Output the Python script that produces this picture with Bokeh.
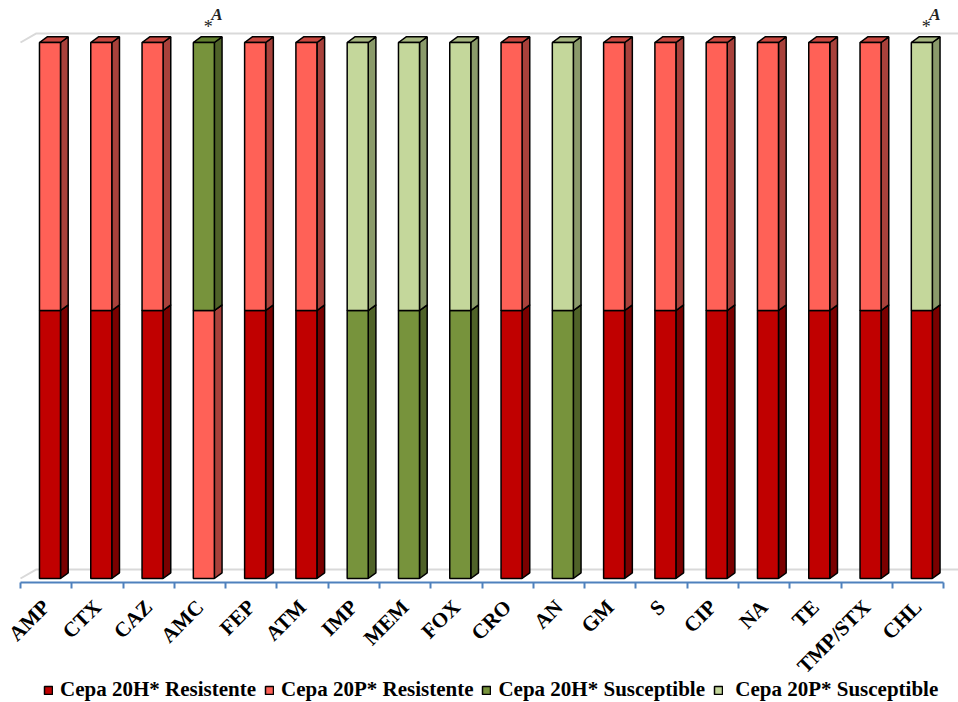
import math
from bokeh.plotting import figure
from bokeh.models import Range1d, FixedTicker, Legend, LegendItem, Label
from bokeh.embed import file_html
from bokeh.resources import INLINE

# Antibiotics tested
categories = ["AMP", "CTX", "CAZ", "AMC", "FEP", "ATM", "IMP", "MEM", "FOX",
              "CRO", "AN", "GM", "S", "CIP", "NA", "TE", "TMP/STX", "CHL"]

# One unit per strain and outcome, stacked in series order
h_resistente = [1, 1, 1, 0, 1, 1, 0, 0, 0, 1, 0, 1, 1, 1, 1, 1, 1, 1]
p_resistente = [1, 1, 1, 1, 1, 1, 0, 0, 0, 1, 0, 1, 1, 1, 1, 1, 1, 0]
h_susceptible = [0, 0, 0, 1, 0, 0, 1, 1, 1, 0, 1, 0, 0, 0, 0, 0, 0, 0]
p_susceptible = [0, 0, 0, 0, 0, 0, 1, 1, 1, 0, 1, 0, 0, 0, 0, 0, 0, 1]

series_names = ["Cepa 20H* Resistente", "Cepa 20P* Resistente",
                "Cepa 20H* Susceptible", " Cepa 20P* Susceptible"]

# Categories carrying the "*A" note
annotated = ["AMC", "CHL"]

# front / side / top shading for each series
front_colors = ["#C00000", "#FF6157", "#77933C", "#C4D79B"]
side_colors = ["#7A0000", "#A8413B", "#4F6228", "#8A9A6A"]
top_colors = ["#9A0000", "#C8473F", "#62802F", "#A6B780"]

series = [h_resistente, p_resistente, h_susceptible, p_susceptible]

# pseudo-3D geometry (data units)
X0, X1 = -0.13, 0.28      # front face, relative to category centre
DX, DY = 0.15, 0.021      # bar depth offset
WX, WY = 0.31, 0.034      # back-wall offset
AXIS_Y = -0.015           # category axis sits just under the bar bases
AXIS_BLUE = "#4F81BD"
GRID_GREY = "#D9D9D9"

n = len(categories)
p = figure(frame_width=958, frame_height=702, output_backend="svg",
           toolbar_location=None,
           x_range=Range1d(-0.89, n - 0.5 + 0.29),
           y_range=Range1d(-0.4627, 2.1567),
           min_border_left=0, min_border_right=0, min_border_top=0,
           min_border_bottom=0, outline_line_color=None)
p.grid.visible = False
p.yaxis.visible = False

# floor and top back-wall lines
for level in (0, 2):
    p.line([-0.5, -0.5 + WX, n - 0.5 + WX], [level, level + WY, level + WY],
           line_color=GRID_GREY, line_width=2)

# build segments per stack level so upper blocks overlap lower ones
levels = {}
for i in range(n):
    base = 0
    lvl = 0
    for s, vals in enumerate(series):
        v = vals[i]
        if v > 0:
            levels.setdefault(lvl, []).append((i, base, base + v, s))
            base += v
            lvl += 1

legend_refs = {}
for lvl in sorted(levels):
    segs = levels[lvl]
    side_xs, side_ys, side_c = [], [], []
    top_xs, top_ys, top_c = [], [], []
    left, right, bottom, top, front_c = [], [], [], [], []
    for (i, b, t, s) in segs:
        x0, x1 = i + X0, i + X1
        side_xs.append([x1, x1 + DX, x1 + DX, x1])
        side_ys.append([b, b + DY, t + DY, t])
        side_c.append(side_colors[s])
        top_xs.append([x0, x1, x1 + DX, x0 + DX])
        top_ys.append([t, t, t + DY, t + DY])
        top_c.append(top_colors[s])
        left.append(x0); right.append(x1); bottom.append(b); top.append(t)
        front_c.append(front_colors[s])
    p.patches(side_xs, side_ys, fill_color=side_c, line_color="black", line_width=1.5)
    p.patches(top_xs, top_ys, fill_color=top_c, line_color="black", line_width=1.5)
    r = p.quad(left=left, right=right, bottom=bottom, top=top, fill_color=front_c,
               line_color="black", line_width=1.5)
    for k, (i, b, t, s) in enumerate(segs):
        legend_refs.setdefault(s, (r, k))

# "*A" notes
for cat in annotated:
    i = categories.index(cat)
    totals = sum(vals[i] for vals in series)
    p.add_layout(Label(x=i + 0.16, y=totals + 0.058, text="*",
                       text_font="Liberation Serif", text_font_size="18px",
                       text_align="center", text_baseline="middle", text_color="#222222"))
    p.add_layout(Label(x=i + 0.33, y=totals + 0.104, text="A",
                       text_font="Liberation Serif", text_font_size="17px",
                       text_font_style="bold italic",
                       text_align="center", text_baseline="middle", text_color="#222222"))

# category axis: labels at centres, tick marks at boundaries
ax = p.xaxis[0]
ax.fixed_location = AXIS_Y
ax.ticker = FixedTicker(ticks=list(range(n)),
                        minor_ticks=[k - 0.5 for k in range(n + 1)])
ax.major_label_overrides = {k: c for k, c in enumerate(categories)}
ax.major_label_orientation = math.pi / 4
ax.bounds = (-0.5, n - 0.5)
ax.axis_line_color = AXIS_BLUE
ax.axis_line_width = 2
ax.major_tick_line_color = None
ax.minor_tick_line_color = AXIS_BLUE
ax.minor_tick_line_width = 2
ax.minor_tick_in = 0
ax.minor_tick_out = 6
ax.major_label_standoff = 15
ax.major_label_text_font = "Liberation Serif"
ax.major_label_text_font_style = "bold"
ax.major_label_text_font_size = "21px"
ax.major_label_text_color = "black"

# legend swatches taken from a front face of each series
legend_items = []
for s, name in enumerate(series_names):
    r, k = legend_refs[s]
    legend_items.append(LegendItem(label=name, renderers=[r], index=k))

legend = Legend(items=legend_items, orientation="horizontal", location=(43, 0),
                label_text_font="Liberation Serif", label_text_font_style="bold",
                label_text_font_size="21px", label_text_color="black",
                glyph_width=10, glyph_height=10,
                label_standoff=7, spacing=8, padding=2, margin=0,
                border_line_color=None, background_fill_alpha=0)
p.add_layout(legend)

open("out.html", "w").write(file_html(p, INLINE))
